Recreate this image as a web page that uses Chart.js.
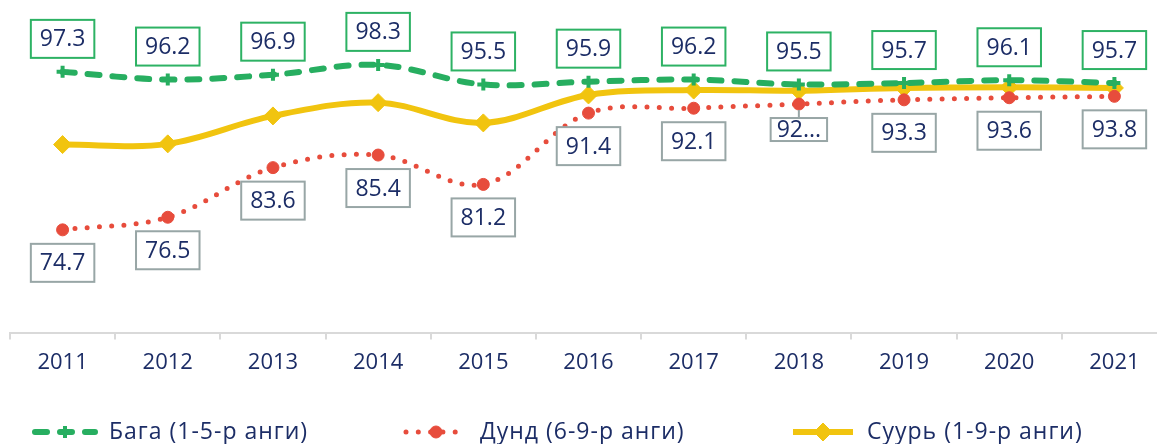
<!DOCTYPE html>
<html>
<head>
  <title>Ангийн түвшин</title>
  <script src="https://cdn.jsdelivr.net/npm/chart.js"></script>
  <style>
    body { margin: 0; padding: 0; overflow: hidden; background: #fff; }
    canvas { display: block; }
  </style>
</head>
<body>

<canvas id="lineChart" width="1180" height="444"></canvas>

<script>
  const years = ['2011', '2012', '2013', '2014', '2015', '2016', '2017', '2018', '2019', '2020', '2021'];
  const baga = [97.3, 96.2, 96.9, 98.3, 95.5, 95.9, 96.2, 95.5, 95.7, 96.1, 95.7];
  const dund = [74.7, 76.5, 83.6, 85.4, 81.2, 91.4, 92.1, 92.7, 93.3, 93.6, 93.8];
  const suur = [86.9, 87.0, 91.0, 92.9, 90.0, 94.0, 94.7, 94.6, 95.0, 95.1, 95.0];
  const bagaLabels = ['97.3', '96.2', '96.9', '98.3', '95.5', '95.9', '96.2', '95.5', '95.7', '96.1', '95.7'];
  const dundLabels = ['74.7', '76.5', '83.6', '85.4', '81.2', '91.4', '92.1', '92...', '93.3', '93.6', '93.8'];

  const navy = '#1c2d66';
  const fontFamily = '"Open Sans", "Noto Sans", sans-serif';
  const green = '#27ae60';
  const red = '#e74c3c';
  const yellow = '#f1c40f';

  // boxed value labels (above for green, below for red)
  const boxLabels = {
    id: 'boxLabels',
    afterDatasetsDraw(chart) {
      const ctx = chart.ctx;
      ctx.save();
      ctx.font = '23px ' + fontFamily;
      ctx.textAlign = 'center';
      ctx.textBaseline = 'middle';
      chart.data.datasets.forEach((ds, i) => {
        if (!ds.boxLabels) return;
        const meta = chart.getDatasetMeta(i);
        meta.data.forEach((pt, j) => {
          const text = ds.boxLabels.text[j];
          const compact = text.endsWith('...');
          const w = ctx.measureText(text).width + (compact ? 12 : 18);
          const h = compact ? 23 : 38;
          const top = ds.boxLabels.pos === 'above' ? pt.y - 14 - h : pt.y + 14;
          if (compact) {
            ctx.strokeStyle = ds.boxLabels.border;
            ctx.lineWidth = 2;
            ctx.beginPath();
            ctx.moveTo(pt.x, pt.y + 6);
            ctx.lineTo(pt.x, top);
            ctx.stroke();
          }
          ctx.fillStyle = '#fff';
          ctx.fillRect(pt.x - w / 2, top, w, h);
          ctx.strokeStyle = ds.boxLabels.border;
          ctx.lineWidth = 2;
          ctx.strokeRect(pt.x - w / 2, top, w, h);
          ctx.fillStyle = navy;
          ctx.fillText(text, pt.x, top + h / 2 + 1);
        });
      });
      ctx.restore();
    }
  };

  // legend with line + marker symbols
  const legendStarts = [32, 403, 790];
  const lineLegend = {
    id: 'lineLegend',
    afterDraw(chart) {
      const ctx = chart.ctx;
      const y = 432;
      const symW = 66;
      ctx.save();
      ctx.font = '23px ' + fontFamily;
      ctx.textBaseline = 'middle';
      chart.data.datasets.forEach((ds, k) => {
        const x = legendStarts[k];
        ctx.strokeStyle = ds.borderColor;
        ctx.lineWidth = ds.borderWidth;
        ctx.lineCap = ds.borderCapStyle || 'butt';
        ctx.setLineDash(ds.borderDash || []);
        ctx.beginPath();
        ctx.moveTo(x + 3, y);
        ctx.lineTo(x + symW - 3, y);
        ctx.stroke();
        ctx.setLineDash([]);
        ctx.lineCap = 'butt';
        ctx.fillStyle = ds.pointBackgroundColor;
        ctx.strokeStyle = ds.pointBorderColor;
        ctx.lineWidth = ds.pointBorderWidth;
        Chart.helpers.drawPoint(ctx, {
          pointStyle: ds.pointStyle,
          radius: ds.pointRadius,
          borderWidth: ds.pointBorderWidth,
          rotation: 0
        }, x + symW / 2, y);
        ctx.fillStyle = navy;
        ctx.letterSpacing = '1px';
        ctx.fillText(ds.label, x + symW + 11, y);
        ctx.letterSpacing = '0px';
      });
      ctx.restore();
    }
  };

  const ctx = document.getElementById('lineChart').getContext('2d');

  window.lineChart = new Chart(ctx, {
    type: 'line',
    data: {
      labels: years,
      datasets: [
        {
          label: 'Бага (1-5-р анги)',
          data: baga,
          borderColor: green,
          backgroundColor: green,
          borderWidth: 6,
          borderDash: [12, 13],
          borderCapStyle: 'round',
          pointStyle: 'cross',
          pointRadius: 6,
          pointBorderWidth: 4,
          pointBorderColor: green,
          pointBackgroundColor: green,
          tension: 0.35,
          boxLabels: { text: bagaLabels, pos: 'above', border: '#2db264' }
        },
        {
          label: 'Дунд (6-9-р анги)',
          data: dund,
          borderColor: red,
          backgroundColor: red,
          borderWidth: 5,
          borderDash: [0, 12.3],
          borderCapStyle: 'round',
          pointStyle: 'circle',
          pointRadius: 6,
          pointBorderWidth: 1,
          pointBorderColor: red,
          pointBackgroundColor: red,
          tension: 0.35,
          boxLabels: { text: dundLabels, pos: 'below', border: '#98a6a6' }
        },
        {
          label: 'Суурь (1-9-р анги)',
          data: suur,
          borderColor: yellow,
          backgroundColor: yellow,
          borderWidth: 6,
          pointStyle: 'rectRot',
          pointRadius: 9,
          pointBorderWidth: 1,
          pointBorderColor: yellow,
          pointBackgroundColor: yellow,
          tension: 0.35
        }
      ]
    },
    options: {
      responsive: false,
      animation: false,
      devicePixelRatio: 1,
      layout: { padding: { left: 10, right: 13, top: 53, bottom: 58 } },
      plugins: {
        legend: { display: false },
        tooltip: { enabled: false }
      },
      scales: {
        x: {
          offset: true,
          grid: { display: true, drawOnChartArea: false, drawTicks: true, tickLength: 7, color: '#d9d9d9', lineWidth: 2, offset: true },
          border: { display: true, color: '#d9d9d9', width: 2 },
          ticks: { color: navy, font: { family: fontFamily, size: 22 }, padding: 10, maxRotation: 0, autoSkip: false }
        },
        y: {
          display: false,
          min: 60,
          max: 100
        }
      }
    },
    plugins: [boxLabels, lineLegend]
  });
</script>

</body>
</html>
